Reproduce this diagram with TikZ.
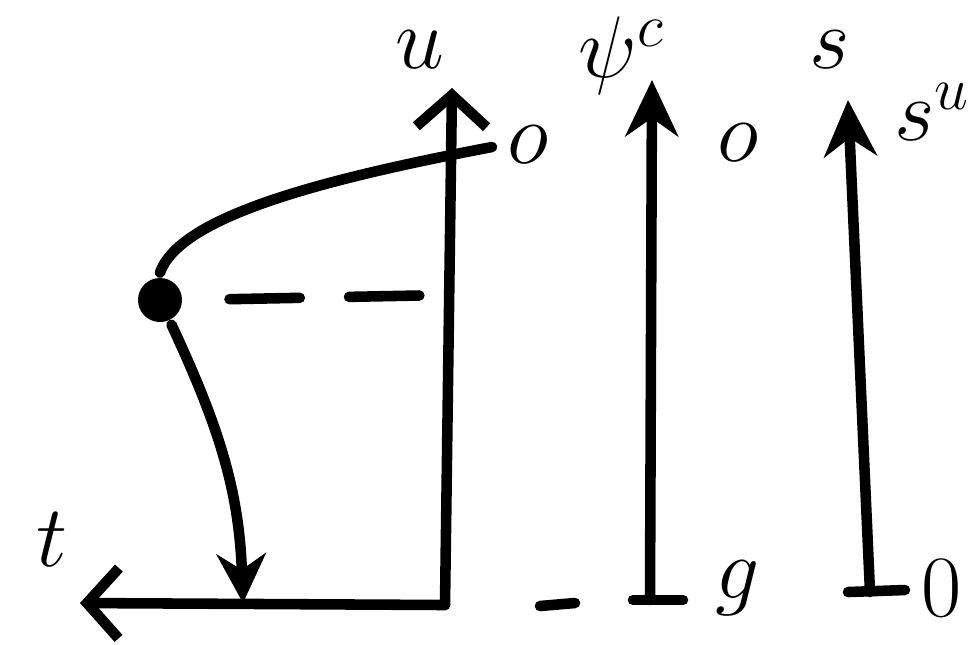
\documentclass[tikz,border=0pt]{standalone}
\usetikzlibrary{arrows.meta, positioning}

\begin{document}
\begin{tikzpicture}[x=0.01cm, y=-0.01cm, line width=3pt, line cap=round,
    lbl/.style={font=\fontsize{24}{28}\selectfont, inner sep=0pt},
    upaxis/.style={-{Stealth[length=16pt, width=15pt]}},
    openaxis/.style={-{Straight Barb[length=9pt, width=20pt]}},
    dot/.style={circle, fill, inner sep=0pt, minimum size=0.44cm}]
  \useasboundingbox (0,0) rectangle (975,644);
  % axis ends
  \coordinate (u0) at (445,605);
  \coordinate (u1) at (452,88);
  \coordinate (p0) at (650,600);
  \coordinate (p1) at (652,80);
  \coordinate (s0) at (870,592);
  \coordinate (s1) at (848,100);
  \coordinate (t1) at (80,603);
  \coordinate (foot) at (243,603);
  \coordinate (hook) at (492,147);
  \coordinate (level) at (445,295);
  \coordinate (gapa) at (540,606);
  \coordinate (gapb) at (575,603);
  \coordinate (pa) at (633,600);
  \coordinate (pb) at (683,600);
  \coordinate (sa) at (848,592);
  \coordinate (sb) at (905,590);
  \node[dot] (pt) at (160,300) {};
  % vertical axes
  \draw[openaxis] (u0) -- (u1);
  \draw[upaxis] (p0) -- (p1);
  \draw[upaxis] (s0) -- (s1);
  % time axis
  \draw[openaxis] (u0) -- (t1);
  \draw (gapa) -- (gapb);
  \draw (pa) -- (pb);
  \draw (sa) -- (sb);
  % path of the point
  \draw (hook) .. controls (330,178) and (180,215) .. (pt.north);
  \draw[-{Stealth[length=14pt, width=14pt]}] (pt) to[out=-65, in=92] (foot);
  \draw[dash pattern=on 20pt off 14pt, dash phase=-12pt] (pt.east) -- (level);
  % labels
  \node[lbl] (lu) at (420,50) {$u$};
  \node[lbl] (lp) at (622,56) {$\psi^{c}$};
  \node[lbl] (ls) at (830,50) {$s$};
  \node[lbl] (lsu) at (932,112) {$s^{u}$};
  \node[lbl] (lt) at (52,540) {$t$};
  \node[lbl] (ou) at (528,145) {$o$};
  \node[lbl] (op) at (738,143) {$o$};
  \node[lbl] (lg) at (738,588) {$g$};
  \node[lbl] (os) at (942,588) {$0$};
\end{tikzpicture}
\end{document}
